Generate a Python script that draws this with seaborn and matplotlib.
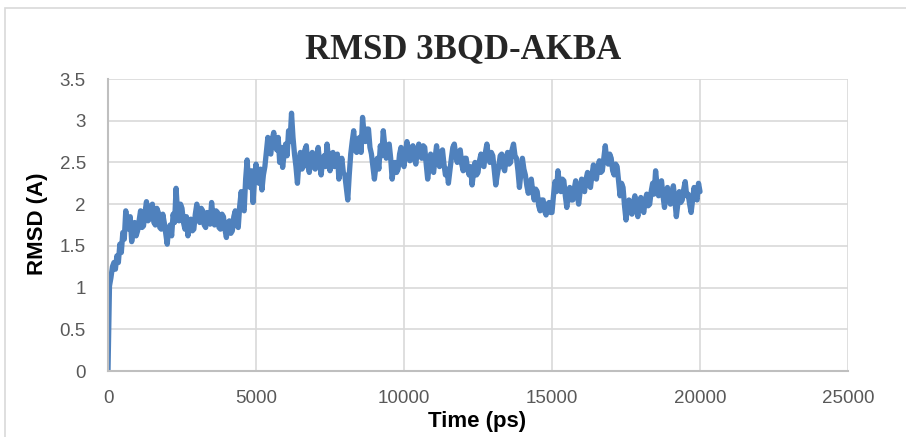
import numpy as np
import pandas as pd
import matplotlib
matplotlib.use("Agg")
import matplotlib.pyplot as plt
import matplotlib.patches as mpatches
import seaborn as sns

# ---- data (50 ps sampling) ----
time_ps = np.arange(0, 20001, 50)
rmsd = [
    0.00, 1.02, 1.12, 1.25, 1.30, 1.22, 1.38, 1.30, 1.52, 1.42, 1.66, 1.58, 1.92, 1.75, 1.70, 1.85, 1.55, 1.68, 1.78, 1.62,
    1.68, 1.80, 1.92, 1.72, 1.74, 1.90, 2.03, 1.80, 1.82, 1.98, 2.00, 1.78, 1.75, 1.95, 1.90, 1.72, 1.70, 1.88, 1.78, 1.65,
    1.52, 1.70, 1.75, 1.62, 1.88, 1.78, 2.19, 1.90, 1.80, 2.00, 1.95, 1.78, 1.70, 1.85, 1.62, 1.75, 1.82, 1.68, 1.70, 1.88,
    2.00, 1.82, 1.78, 1.95, 1.92, 1.75, 1.72, 1.90, 1.88, 1.76, 2.02, 1.85, 1.75, 1.92, 1.90, 1.72, 1.70, 1.88, 1.85, 1.70,
    1.60, 1.78, 1.80, 1.65, 1.68, 1.85, 1.92, 1.75, 1.72, 1.98, 2.15, 1.95, 1.92, 2.30, 2.53, 2.25, 2.20, 2.40, 2.02, 2.30,
    2.48, 2.30, 2.25, 2.42, 2.17, 2.35, 2.45, 2.62, 2.80, 2.62, 2.60, 2.78, 2.86, 2.70, 2.65, 2.80, 2.50, 2.68, 2.44, 2.60,
    2.72, 2.58, 2.88, 2.75, 3.09, 2.80, 2.60, 2.45, 2.25, 2.50, 2.62, 2.42, 2.45, 2.65, 2.70, 2.48, 2.38, 2.55, 2.62, 2.45,
    2.42, 2.58, 2.68, 2.50, 2.35, 2.52, 2.58, 2.45, 2.72, 2.55, 2.40, 2.60, 2.62, 2.45, 2.48, 2.60, 2.30, 2.45, 2.55, 2.38,
    2.35, 2.20, 2.05, 2.35, 2.60, 2.75, 2.88, 2.65, 2.62, 2.78, 2.80, 2.62, 3.04, 2.85, 2.75, 2.90, 2.90, 2.68, 2.60, 2.45,
    2.30, 2.45, 2.55, 2.42, 2.70, 2.58, 2.88, 2.70, 2.55, 2.68, 2.72, 2.55, 2.30, 2.45, 2.50, 2.38, 2.42, 2.60, 2.68, 2.52,
    2.45, 2.62, 2.75, 2.58, 2.52, 2.68, 2.70, 2.55, 2.48, 2.65, 2.72, 2.58, 2.55, 2.70, 2.68, 2.48, 2.30, 2.45, 2.60, 2.42,
    2.38, 2.55, 2.70, 2.52, 2.45, 2.62, 2.65, 2.48, 2.35, 2.42, 2.25, 2.40, 2.55, 2.68, 2.72, 2.58, 2.50, 2.62, 2.65, 2.48,
    2.40, 2.55, 2.55, 2.42, 2.35, 2.45, 2.23, 2.38, 2.50, 2.35, 2.38, 2.52, 2.60, 2.48, 2.45, 2.62, 2.72, 2.58, 2.50, 2.62,
    2.58, 2.40, 2.23, 2.35, 2.45, 2.58, 2.60, 2.45, 2.40, 2.55, 2.62, 2.48, 2.50, 2.65, 2.72, 2.58, 2.55, 2.40, 2.20, 2.38,
    2.55, 2.42, 2.35, 2.22, 2.13, 2.25, 2.30, 2.15, 2.05, 2.18, 2.15, 1.98, 1.92, 2.05, 2.05, 1.92, 1.87, 2.00, 2.02, 1.90,
    1.90, 2.10, 2.27, 2.15, 2.40, 2.25, 2.15, 2.30, 2.28, 2.10, 1.96, 2.12, 2.20, 2.05, 2.05, 2.18, 2.28, 2.12, 2.00, 2.15,
    2.30, 2.18, 2.15, 2.30, 2.38, 2.25, 2.20, 2.35, 2.47, 2.32, 2.30, 2.45, 2.52, 2.38, 2.40, 2.55, 2.70, 2.52, 2.48, 2.60,
    2.55, 2.40, 2.35, 2.48, 2.45, 2.28, 2.10, 2.25, 2.20, 1.98, 1.81, 1.95, 2.05, 1.92, 1.88, 2.02, 2.10, 1.95, 1.85, 2.00,
    2.08, 1.95, 1.90, 2.05, 2.12, 1.98, 2.00, 2.15, 2.25, 2.12, 2.40, 2.22, 2.10, 2.25, 2.28, 2.10, 1.96, 2.10, 2.20, 2.05,
    2.00, 2.12, 2.22, 2.05, 1.85, 2.00, 2.15, 2.02, 2.05, 2.18, 2.27, 2.10, 2.12, 2.00, 1.90, 2.05, 2.20, 2.10, 2.05, 2.25,
    2.15,
]
x_ticks = [0, 5000, 10000, 15000, 20000, 25000]
y_ticks = [0, 0.5, 1, 1.5, 2, 2.5, 3, 3.5]
title = "RMSD 3BQD-AKBA"
x_label = "Time (ps)"
y_label = "RMSD (A)"

df = pd.DataFrame({"time": time_ps, "rmsd": rmsd})

sns.set_theme(style="white")
tick_font = ["Liberation Sans Narrow", "Liberation Sans", "DejaVu Sans"]

W, H = 906, 437
fig = plt.figure(figsize=(W / 100, H / 100), dpi=100)
ax = fig.add_axes([108 / W, 1 - 371 / H, (848 - 108) / W, (371 - 79) / H])

# chart-area border
fig.patches.append(mpatches.Rectangle((5 / W, -0.1), 1.2, 1 - 8 / H + 0.1,
                                      transform=fig.transFigure, fill=False,
                                      edgecolor="#d9d9d9", linewidth=1.2))

sns.lineplot(data=df, x="time", y="rmsd", ax=ax, color="#4f81bd",
             linewidth=3.8, estimator=None, sort=False)

ax.set_xlim(0, 25000)
ax.set_ylim(0, 3.5)
ax.set_xticks(x_ticks)
ax.set_yticks(y_ticks)
ax.set_xticklabels([f"{v}" for v in x_ticks])
ax.set_yticklabels([f"{v:g}" for v in y_ticks])
ax.grid(True, color="#d9d9d9", linewidth=1.2)
ax.set_axisbelow(True)
for s in ["top", "right"]:
    ax.spines[s].set_visible(False)
for s in ["left", "bottom"]:
    ax.spines[s].set_color("#bfbfbf")
    ax.spines[s].set_linewidth(1.5)
ax.tick_params(axis="both", length=0, colors="#595959", labelsize=13.5)
ax.tick_params(axis="y", pad=16)
ax.tick_params(axis="x", pad=14)
for lab in ax.get_xticklabels() + ax.get_yticklabels():
    lab.set_family(tick_font)
ax.set_xlabel("")
ax.set_ylabel("")

fig.text(463 / W, 1 - 50 / H, title, ha="center", va="center",
         fontsize=25, fontweight="bold", family=["Liberation Serif", "DejaVu Serif"])
fig.text(477 / W, 1 - 421 / H, x_label, ha="center", va="center",
         fontsize=16, fontweight="bold", family=tick_font, color="black")
fig.text(37 / W, 1 - 224 / H, y_label, ha="center", va="center", rotation=90,
         fontsize=16, fontweight="bold", family=tick_font, color="black")

fig.savefig("out.png", dpi=100)
